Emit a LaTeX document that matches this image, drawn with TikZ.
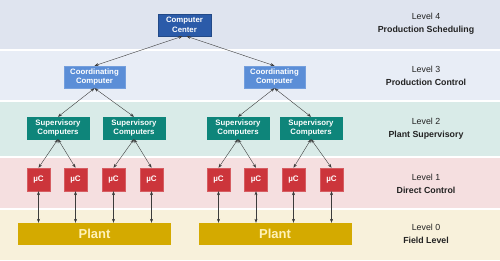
\documentclass[tikz,border=0pt]{standalone}
\usepackage{fontspec}
\setmainfont{Liberation Sans}
\usetikzlibrary{arrows.meta,positioning}
\definecolor{bandfour}{HTML}{DFE4EF}
\definecolor{bandthree}{HTML}{E8EDF6}
\definecolor{bandtwo}{HTML}{D9EBE8}
\definecolor{bandone}{HTML}{F5DFE0}
\definecolor{bandzero}{HTML}{F8F1DB}
\definecolor{ccblue}{HTML}{2B5BA9}
\definecolor{coblue}{HTML}{5B8ED7}
\definecolor{supteal}{HTML}{0E857A}
\definecolor{ucred}{HTML}{CC353B}
\definecolor{plantgold}{HTML}{D4AA00}
\definecolor{planttext}{HTML}{FFF2B8}
\definecolor{arrowgray}{HTML}{3C3C3C}
\definecolor{lvltext}{HTML}{222222}

\begin{document}
\begin{tikzpicture}[x=1pt, y=-1pt,
    box/.style={draw, inner sep=0pt, minimum height=22pt, align=center, text=white, font=\fontsize{7.8}{9.5}\selectfont\bfseries},
    ccbox/.style={box, fill=ccblue, draw=ccblue!80!black, minimum width=53pt},
    cobox/.style={box, fill=coblue, draw=coblue!85!white, minimum width=61pt},
    supbox/.style={box, fill=supteal, draw=supteal, minimum width=62pt},
    ucbox/.style={box, fill=ucred, draw=ucred!80!white, minimum width=23pt, minimum height=23pt, font=\fontsize{8}{9}\selectfont\bfseries},
    plantbox/.style={inner sep=0pt, fill=plantgold, minimum width=153pt, minimum height=22pt, text=planttext, font=\fontsize{13}{15}\selectfont\bfseries},
    lvl/.style={align=center, text=lvltext, font=\fontsize{8.8}{13}\selectfont},
    arr/.style={{Stealth[length=4pt,width=3pt]}-{Stealth[length=4pt,width=3pt]}, line width=0.4pt, draw=arrowgray}
]
\useasboundingbox (0,0) rectangle (500,260);

% level bands
\fill[bandfour] (0,0) rectangle (500,50);
\fill[bandthree] (0,50) rectangle (500,101);
\fill[bandtwo] (0,101) rectangle (500,157);
\fill[bandone] (0,157) rectangle (500,209);
\fill[bandzero] (0,209) rectangle (500,260);
\draw[white, line width=1.5pt] (0,50) -- (500,50) (0,101) -- (500,101) (0,157) -- (500,157) (0,209) -- (500,209);

% level labels
\node[lvl] (l4) at (426,23.5) {Level 4\\\textbf{Production Scheduling}};
\node[lvl] (l3) at (426,75.5) {Level 3\\\textbf{Production Control}};
\node[lvl] (l2) at (426,129) {Level 2\\\textbf{Plant Supervisory}};
\node[lvl] (l1) at (426,183.5) {Level 1\\\textbf{Direct Control}};
\node[lvl] (l0) at (426,234) {Level 0\\\textbf{Field Level}};

% computers
\node[ccbox] (cc) at (184.5,25) {Computer\\Center};
\node[cobox] (co1) at (94.5,77) {Coordinating\\Computer};
\node[cobox] (co2) at (274.5,77) {Coordinating\\Computer};
\node[supbox] (sup1) at (58,128) {Supervisory\\Computers};
\node[supbox] (sup2) at (134,128) {Supervisory\\Computers};
\node[supbox] (sup3) at (238,128) {Supervisory\\Computers};
\node[supbox] (sup4) at (311,128) {Supervisory\\Computers};

\node[ucbox] (uc1) at (38.5,179.5) {µC};
\node[ucbox] (uc2) at (75.5,179.5) {µC};
\node[ucbox] (uc3) at (113.5,179.5) {µC};
\node[ucbox] (uc4) at (151.5,179.5) {µC};
\node[ucbox] (uc5) at (218.5,179.5) {µC};
\node[ucbox] (uc6) at (256,179.5) {µC};
\node[ucbox] (uc7) at (293.5,179.5) {µC};
\node[ucbox] (uc8) at (331.5,179.5) {µC};

\node[plantbox] (plant1) at (94.5,234) {Plant};
\node[plantbox] (plant2) at (275,234) {Plant};

% links
\draw[arr] ([xshift=-2pt]cc.south) -- (co1.north);
\draw[arr] ([xshift=2pt]cc.south) -- (co2.north);
\draw[arr] (co1.south) -- (sup1.north);
\draw[arr] (co1.south) -- (sup2.north);
\draw[arr] (co2.south) -- (sup3.north);
\draw[arr] (co2.south) -- (sup4.north);
\draw[arr] (sup1.south) -- (uc1.north);
\draw[arr] (sup1.south) -- (uc2.north);
\draw[arr] (sup2.south) -- (uc3.north);
\draw[arr] (sup2.south) -- (uc4.north);
\draw[arr] (sup3.south) -- (uc5.north);
\draw[arr] (sup3.south) -- (uc6.north);
\draw[arr] (sup4.south) -- (uc7.north);
\draw[arr] (sup4.south) -- (uc8.north);
\draw[arr] (uc1.south) -- (uc1.south |- plant1.north);
\draw[arr] (uc2.south) -- (uc2.south |- plant1.north);
\draw[arr] (uc3.south) -- (uc3.south |- plant1.north);
\draw[arr] (uc4.south) -- (uc4.south |- plant1.north);
\draw[arr] (uc5.south) -- (uc5.south |- plant2.north);
\draw[arr] (uc6.south) -- (uc6.south |- plant2.north);
\draw[arr] (uc7.south) -- (uc7.south |- plant2.north);
\draw[arr] (uc8.south) -- (uc8.south |- plant2.north);
\end{tikzpicture}
\end{document}
